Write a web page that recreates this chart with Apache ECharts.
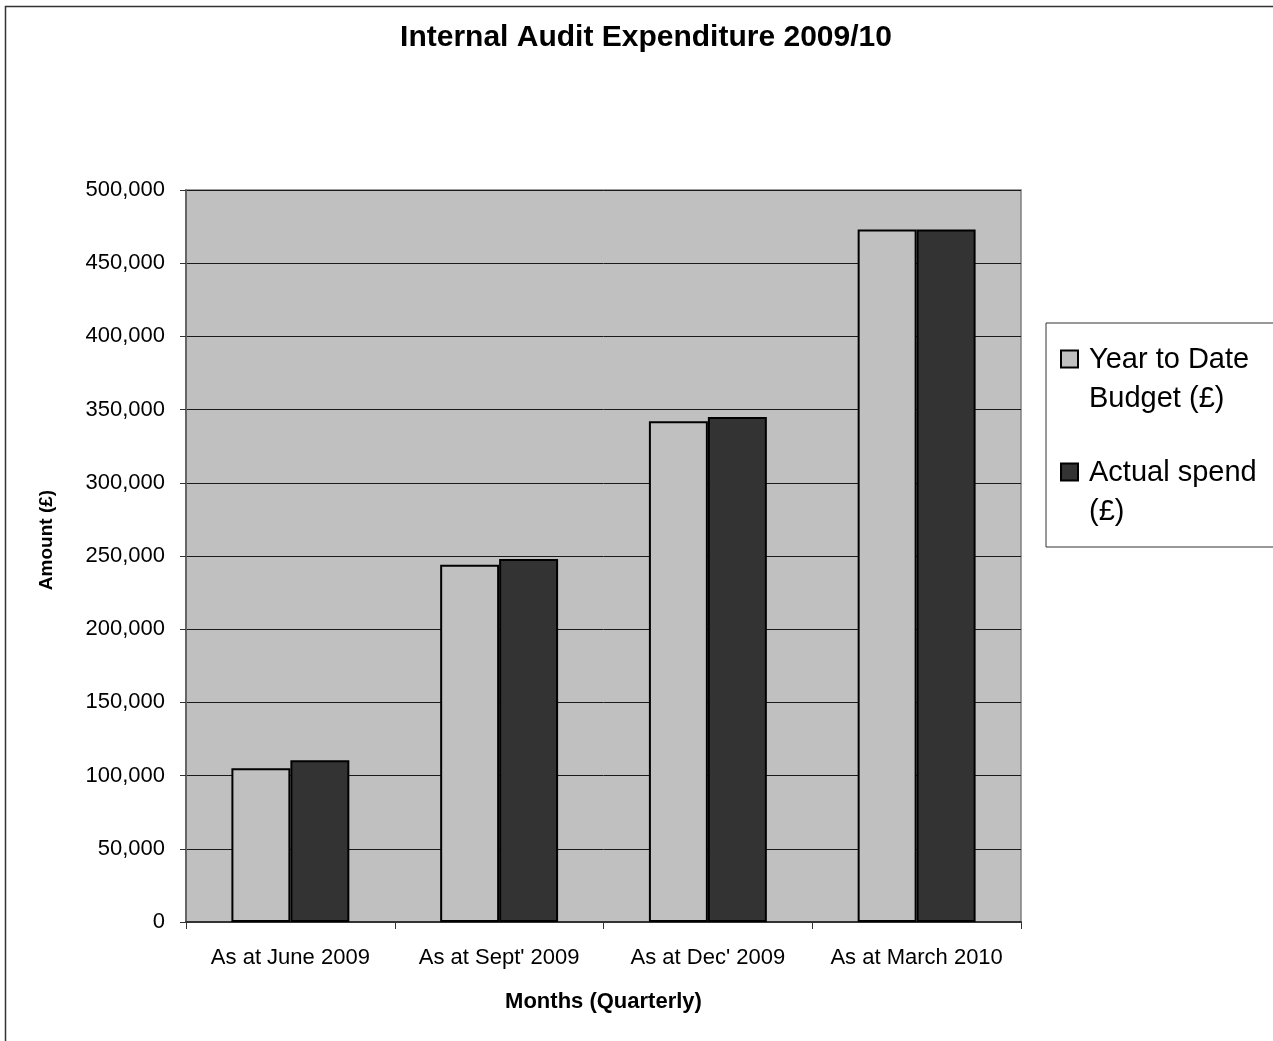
<!DOCTYPE html>
<html>
<head>
<meta charset="utf-8">
<style>
  html, body { margin: 0; padding: 0; background: #fff; }
  #chart { width: 1273px; height: 1041px; }
</style>
<script src="https://cdn.jsdelivr.net/npm/echarts@6/dist/echarts.min.js"></script>
</head>
<body>
<div id="chart"></div>
<script>
// Quarterly internal audit figures, 2009/10
const quarters = ['As at June 2009', "As at Sept' 2009", "As at Dec' 2009", 'As at March 2010'];
const budget = [105000, 244000, 342000, 473000];
const actual = [110500, 248000, 345000, 473000];
const seriesNames = ['Year to Date Budget (£)', 'Actual spend (£)'];
const legendLines = {
  'Year to Date Budget (£)': ['Year to Date', 'Budget (£)'],
  'Actual spend (£)': ['Actual spend', '(£)']
};

const FONT = '"Liberation Sans", Arial, sans-serif';
// square swatch sitting at the top of a taller box, so it lines up with the first text line
const SWATCH = 'path://M0,0 L17,0 L17,17 L0,17 Z M0,57 L0,57';

const chart = echarts.init(document.getElementById('chart'), null, { renderer: 'canvas' });

chart.setOption({
  animation: false,
  backgroundColor: '#ffffff',
  textStyle: { fontFamily: FONT },
  graphic: [{
    type: 'rect',
    left: 3, top: 4,
    shape: { width: 1320, height: 1100 },
    style: { fill: 'none', stroke: '#333333', lineWidth: 1.5 },
    silent: true,
    z: -1
  }],
  title: {
    text: 'Internal Audit Expenditure 2009/10',
    left: 646,
    textAlign: 'center',
    top: 23,
    padding: 0,
    textStyle: { fontFamily: FONT, fontSize: 30, fontWeight: 'bold', color: '#000' }
  },
  legend: {
    orient: 'vertical',
    left: 1046,
    top: 323,
    backgroundColor: '#fff',
    borderColor: '#333',
    borderWidth: 1,
    padding: [17, 40, 16, 14],
    itemWidth: 17,
    itemHeight: 57,
    itemGap: 35,
    icon: SWATCH,
    data: seriesNames,
    formatter: function (name) {
      return legendLines[name].map(function (s) { return '{t|' + s + '}'; }).join('\n');
    },
    textStyle: {
      fontFamily: FONT, fontSize: 29, color: '#000', lineHeight: 39,
      rich: { t: { fontFamily: FONT, fontSize: 29, color: '#000', lineHeight: 39, padding: [0, 0, 0, 6] } }
    }
  },
  grid: {
    left: 186,
    top: 190,
    width: 835,
    height: 732,
    show: true,
    backgroundColor: '#c0c0c0',
    borderColor: '#808080',
    borderWidth: 1.5
  },
  xAxis: {
    type: 'category',
    data: quarters,
    name: 'Months (Quarterly)',
    nameLocation: 'middle',
    nameGap: 69,
    nameTextStyle: { fontFamily: FONT, fontSize: 22, fontWeight: 'bold', color: '#000' },
    axisLine: { show: true, lineStyle: { color: '#333', width: 2 } },
    axisTick: { show: true, interval: 0, length: 7, lineStyle: { color: '#333', width: 1 } },
    axisLabel: { interval: 0, hideOverlap: false, fontFamily: FONT, fontSize: 22, color: '#000', margin: 25 },
    splitLine: { show: false }
  },
  yAxis: {
    type: 'value',
    min: 0,
    max: 500000,
    interval: 50000,
    name: 'Amount (£)',
    nameLocation: 'middle',
    nameGap: 130,
    nameTextStyle: { fontFamily: FONT, fontSize: 19, fontWeight: 'bold', color: '#000', padding: [0, 0, 0, 32] },
    axisLine: { show: true, lineStyle: { color: '#666', width: 2 } },
    axisTick: { show: true, length: 6, lineStyle: { color: '#333', width: 1 } },
    axisLabel: {
      fontFamily: FONT, fontSize: 22, color: '#000', margin: 21,
      formatter: function (v) { return v.toLocaleString('en-GB'); }
    },
    splitLine: { show: true, lineStyle: { color: '#1a1a1a', width: 1 } }
  },
  series: [
    {
      name: seriesNames[0],
      type: 'bar',
      data: budget,
      barGap: '0%',
      barCategoryGap: '43.5%',
      itemStyle: { color: '#c0c0c0', borderColor: '#000', borderWidth: 2 }
    },
    {
      name: seriesNames[1],
      type: 'bar',
      data: actual,
      itemStyle: { color: '#333333', borderColor: '#000', borderWidth: 2 }
    }
  ]
});
</script>
</body>
</html>
